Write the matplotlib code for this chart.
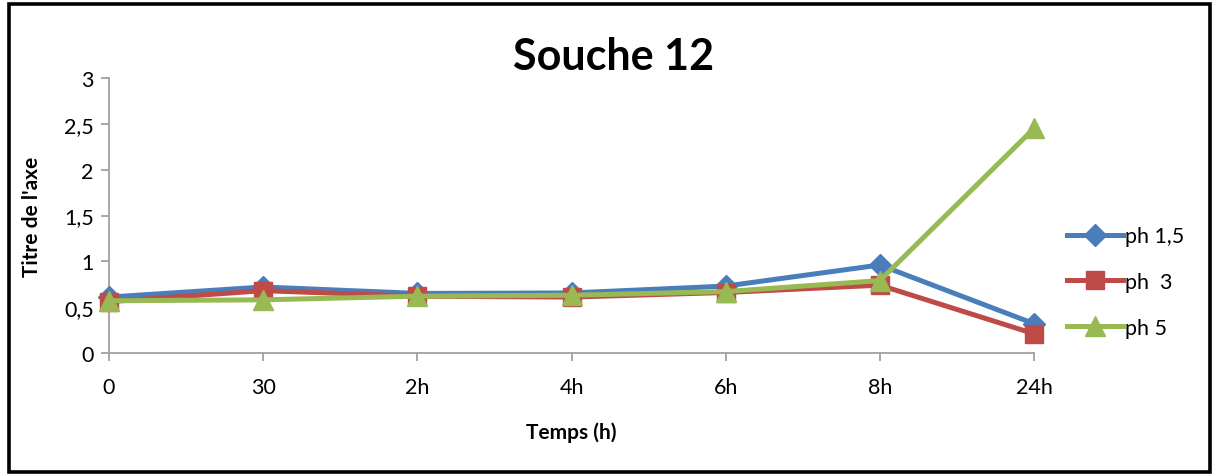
import matplotlib
matplotlib.use("Agg")
import matplotlib.pyplot as plt
from matplotlib.patches import Rectangle

categories = ["0", "30", "2h", "4h", "6h", "8h", "24h"]
ph_1_5 = [0.61, 0.72, 0.65, 0.655, 0.73, 0.96, 0.32]
ph_3 = [0.56, 0.68, 0.62, 0.61, 0.66, 0.74, 0.21]
ph_5 = [0.57, 0.58, 0.62, 0.63, 0.67, 0.79, 2.45]
yticks = [0, 0.5, 1, 1.5, 2, 2.5, 3]
ytick_labels = ["0", "0,5", "1", "1,5", "2", "2,5", "3"]

plt.rcParams['font.family'] = ['Lato', 'DejaVu Sans']

W, H = 1217, 477
fig = plt.figure(figsize=(W / 100, H / 100), dpi=100)
fig.patch.set_facecolor("white")
fig.patches.append(Rectangle((8.5 / W, 4.5 / H), 1201 / W, 468 / H, transform=fig.transFigure,
                             fill=False, edgecolor="black", linewidth=2.6))

ax = fig.add_axes([109 / W, 1 - 354 / H, (1034 - 109) / W, (354 - 79) / H])
x = list(range(len(categories)))
gray = "#A0A0A0"
ax.plot(x, ph_1_5, color="#4A7EBB", lw=3.6, marker="D", ms=11, label="ph 1,5", clip_on=False, zorder=3)
ax.plot(x, ph_3, color="#BE4B48", lw=3.6, marker="s", ms=13, label="ph  3", clip_on=False, zorder=4)
ax.plot(x, ph_5, color="#98B954", lw=3.6, marker="^", ms=14, label="ph 5", clip_on=False, zorder=5)

ax.set_xlim(0, 6)
ax.set_ylim(0, 3)
ax.set_xticks(x)
ax.set_xticklabels(categories, fontsize=15.5)
ax.set_yticks(yticks)
ax.set_yticklabels(ytick_labels, fontsize=15.5)
for s in ["top", "right"]:
    ax.spines[s].set_visible(False)
for s in ["left", "bottom"]:
    ax.spines[s].set_color(gray)
    ax.spines[s].set_linewidth(1.3)
ax.tick_params(axis="both", direction="out", length=6, width=1.3, color=gray, pad=5)
ax.tick_params(axis="x", pad=11)

ax.set_xlabel("Temps (h)", fontsize=15, fontweight="bold", labelpad=18)
ax.set_ylabel("Titre de l'axe", fontsize=15, fontweight="bold", labelpad=16)
fig.text(614 / W, 1 - 57 / H, "Souche 12", fontsize=31, fontweight="bold", ha="center", va="center")

leg = ax.legend(loc="center left", bbox_to_anchor=(1058 / W, 1 - 283 / H), bbox_transform=fig.transFigure,
                frameon=False, fontsize=15.5, handlelength=2.6, labelspacing=1.2, handletextpad=0.1,
                borderaxespad=0)

fig.savefig("out.png", dpi=100, facecolor="white")
